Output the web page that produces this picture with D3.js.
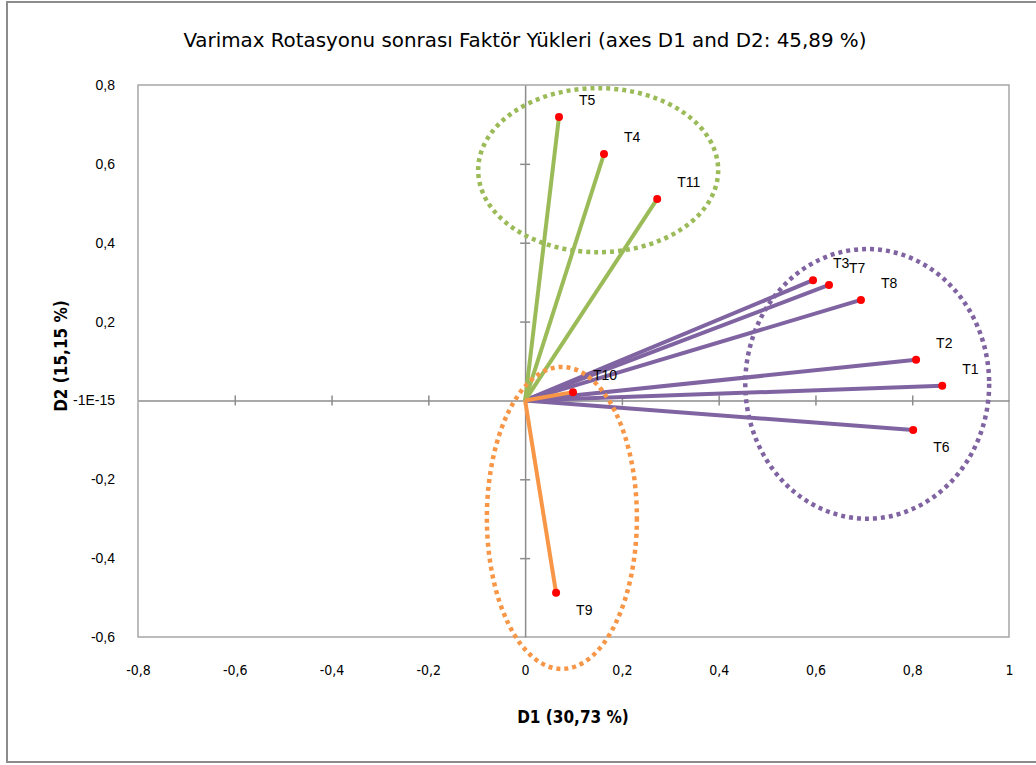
<!DOCTYPE html>
<html>
<head>
<meta charset="utf-8">
<script src="https://cdn.jsdelivr.net/npm/d3@7"></script>
<style>
  body { margin: 0; background: #fff; }
  svg { display: block; }
  .tick text { fill: #000; }
</style>
</head>
<body>
<div id="chart"></div>
<script>
// factor loadings after varimax rotation
var names = ["T1", "T2", "T3", "T4", "T5", "T6", "T7", "T8", "T9", "T10", "T11"];
var d1 = [0.862, 0.808, 0.595, 0.163, 0.070, 0.802, 0.628, 0.694, 0.064, 0.099, 0.273];
var d2 = [0.037, 0.103, 0.305, 0.625, 0.719, -0.075, 0.293, 0.255, -0.488, 0.021, 0.511];
var groups = ["purple", "purple", "purple", "green", "green", "purple", "purple", "purple", "orange", "orange", "green"];

var xTicks = [-0.8, -0.6, -0.4, -0.2, 0, 0.2, 0.4, 0.6, 0.8, 1];
var xTickLabels = ["-0,8", "-0,6", "-0,4", "-0,2", "0", "0,2", "0,4", "0,6", "0,8", "1"];
var yTicks = [0.8, 0.6, 0.4, 0.2, 0, -0.2, -0.4, -0.6];
var yTickLabels = ["0,8", "0,6", "0,4", "0,2", "-1E-15", "-0,2", "-0,4", "-0,6"];

// cluster ellipses (data units)
var clusterNames = ["green", "purple", "orange"];
var clusterCx = [0.151, 0.707, 0.076];
var clusterCy = [0.584, 0.042, -0.298];
var clusterRx = [0.248, 0.252, 0.155];
var clusterRy = [0.208, 0.342, 0.383];

var belowLabels = ["T6", "T9"];

var colors = { purple: "#8064A2", green: "#9BBB59", orange: "#F79646" };

function draw() {
    var W = 1036, H = 765;
    var pl = 138, pr = 1009, pt = 85, pb = 637;
    var condensed = "'Liberation Sans Narrow', 'DejaVu Sans Condensed', sans-serif";
    var plain = "'Liberation Sans', Arial, sans-serif";

    var svg = d3.select("#chart").append("svg")
        .attr("width", W)
        .attr("height", H);

    // outer chart frame
    svg.append("rect")
        .attr("x", 7).attr("y", 2)
        .attr("width", 1040).attr("height", 760)
        .attr("fill", "#fff")
        .attr("stroke", "#8c8c8c")
        .attr("stroke-width", 2);

    var x = d3.scaleLinear().domain([-0.8, 1]).range([pl, pr]);
    var y = d3.scaleLinear().domain([-0.6, 0.8]).range([pb, pt]);

    // plot area border
    svg.append("rect")
        .attr("x", pl).attr("y", pt)
        .attr("width", pr - pl).attr("height", pb - pt)
        .attr("fill", "none")
        .attr("stroke", "#a6a6a6")
        .attr("stroke-width", 1.5);

    // axes through the origin, crossing tick marks
    var xZero = svg.append("g")
        .attr("transform", "translate(0," + y(0) + ")")
        .call(d3.axisBottom(x).tickValues(xTicks.filter(function (d) { return d > -0.8 && d < 1 && d != 0; }))
            .tickFormat("").tickSizeOuter(0));
    xZero.selectAll(".tick line").attr("y1", -5).attr("y2", 5);

    var yZero = svg.append("g")
        .attr("transform", "translate(" + x(0) + ",0)")
        .call(d3.axisLeft(y).tickValues(yTicks.filter(function (d) { return d > -0.6 && d < 0.8 && d != 0; }))
            .tickFormat("").tickSizeOuter(0));
    yZero.selectAll(".tick line").attr("x1", -5).attr("x2", 5);

    [xZero, yZero].forEach(function (g) {
        g.select(".domain").attr("stroke", "#8c8c8c").attr("stroke-width", 1.5);
        g.selectAll(".tick line").attr("stroke", "#8c8c8c").attr("stroke-width", 1.5);
    });

    // tick labels
    var xLab = svg.append("g")
        .attr("transform", "translate(0," + pb + ")")
        .call(d3.axisBottom(x).tickValues(xTicks)
            .tickFormat(function (d, i) { return xTickLabels[i]; })
            .tickSize(0).tickPadding(28));
    xLab.select(".domain").remove();
    xLab.selectAll("text")
        .style("font-family", condensed)
        .style("font-size", "14px");

    var yLab = svg.append("g")
        .attr("transform", "translate(" + pl + ",0)")
        .call(d3.axisLeft(y).tickValues(yTicks)
            .tickFormat(function (d, i) { return yTickLabels[i]; })
            .tickSize(0).tickPadding(23));
    yLab.select(".domain").remove();
    yLab.selectAll("text")
        .style("font-family", plain)
        .style("font-size", "14px");

    var rows = names.map(function (n, i) {
        return { name: n, d1: d1[i], d2: d2[i], group: groups[i] };
    });
    var order = { purple: 0, green: 1, orange: 2 };
    rows.sort(function (a, b) { return order[a.group] - order[b.group]; });

    // loading vectors
    svg.selectAll("line.vec")
        .data(rows)
        .enter()
        .append("line")
        .attr("class", "vec")
        .attr("x1", x(0)).attr("y1", y(0))
        .attr("x2", function (d) { return x(d.d1); })
        .attr("y2", function (d) { return y(d.d2); })
        .attr("stroke", function (d) { return colors[d.group]; })
        .attr("stroke-width", 4);

    // points
    svg.selectAll("circle.pt")
        .data(rows)
        .enter()
        .append("circle")
        .attr("class", "pt")
        .attr("cx", function (d) { return x(d.d1); })
        .attr("cy", function (d) { return y(d.d2); })
        .attr("r", 4)
        .attr("fill", "#ff0000");

    // cluster ellipses
    svg.selectAll("ellipse.cl")
        .data(clusterNames)
        .enter()
        .append("ellipse")
        .attr("class", "cl")
        .attr("cx", function (d, i) { return x(clusterCx[i]); })
        .attr("cy", function (d, i) { return y(clusterCy[i]); })
        .attr("rx", function (d, i) { return x(clusterRx[i]) - x(0); })
        .attr("ry", function (d, i) { return y(0) - y(clusterRy[i]); })
        .attr("fill", "none")
        .attr("stroke", function (d) { return colors[d]; })
        .attr("stroke-width", 4.5)
        .attr("stroke-dasharray", "4,4");

    // point labels
    svg.selectAll("text.lbl")
        .data(rows)
        .enter()
        .append("text")
        .attr("class", "lbl")
        .attr("x", function (d) { return x(d.d1) + 20; })
        .attr("y", function (d) { return y(d.d2) + (belowLabels.indexOf(d.name) >= 0 ? 22 : -12); })
        .style("font-family", plain)
        .style("font-size", "14px")
        .text(function (d) { return d.name; });

    // titles
    svg.append("text")
        .attr("x", 525).attr("y", 47)
        .attr("text-anchor", "middle")
        .attr("textLength", 683)
        .attr("lengthAdjust", "spacingAndGlyphs")
        .style("font-family", condensed)
        .style("font-size", "19px")
        .text("Varimax Rotasyonu sonrası Faktör Yükleri  (axes D1 and D2: 45,89 %)");

    svg.append("text")
        .attr("x", 573).attr("y", 723)
        .attr("text-anchor", "middle")
        .style("font-family", condensed)
        .style("font-size", "17px")
        .style("font-weight", "bold")
        .text("D1 (30,73 %)");

    svg.append("text")
        .attr("transform", "translate(67,356) rotate(-90)")
        .attr("text-anchor", "middle")
        .style("font-family", condensed)
        .style("font-size", "17px")
        .style("font-weight", "bold")
        .text("D2 (15,15 %)");
}

draw();
</script>
</body>
</html>
